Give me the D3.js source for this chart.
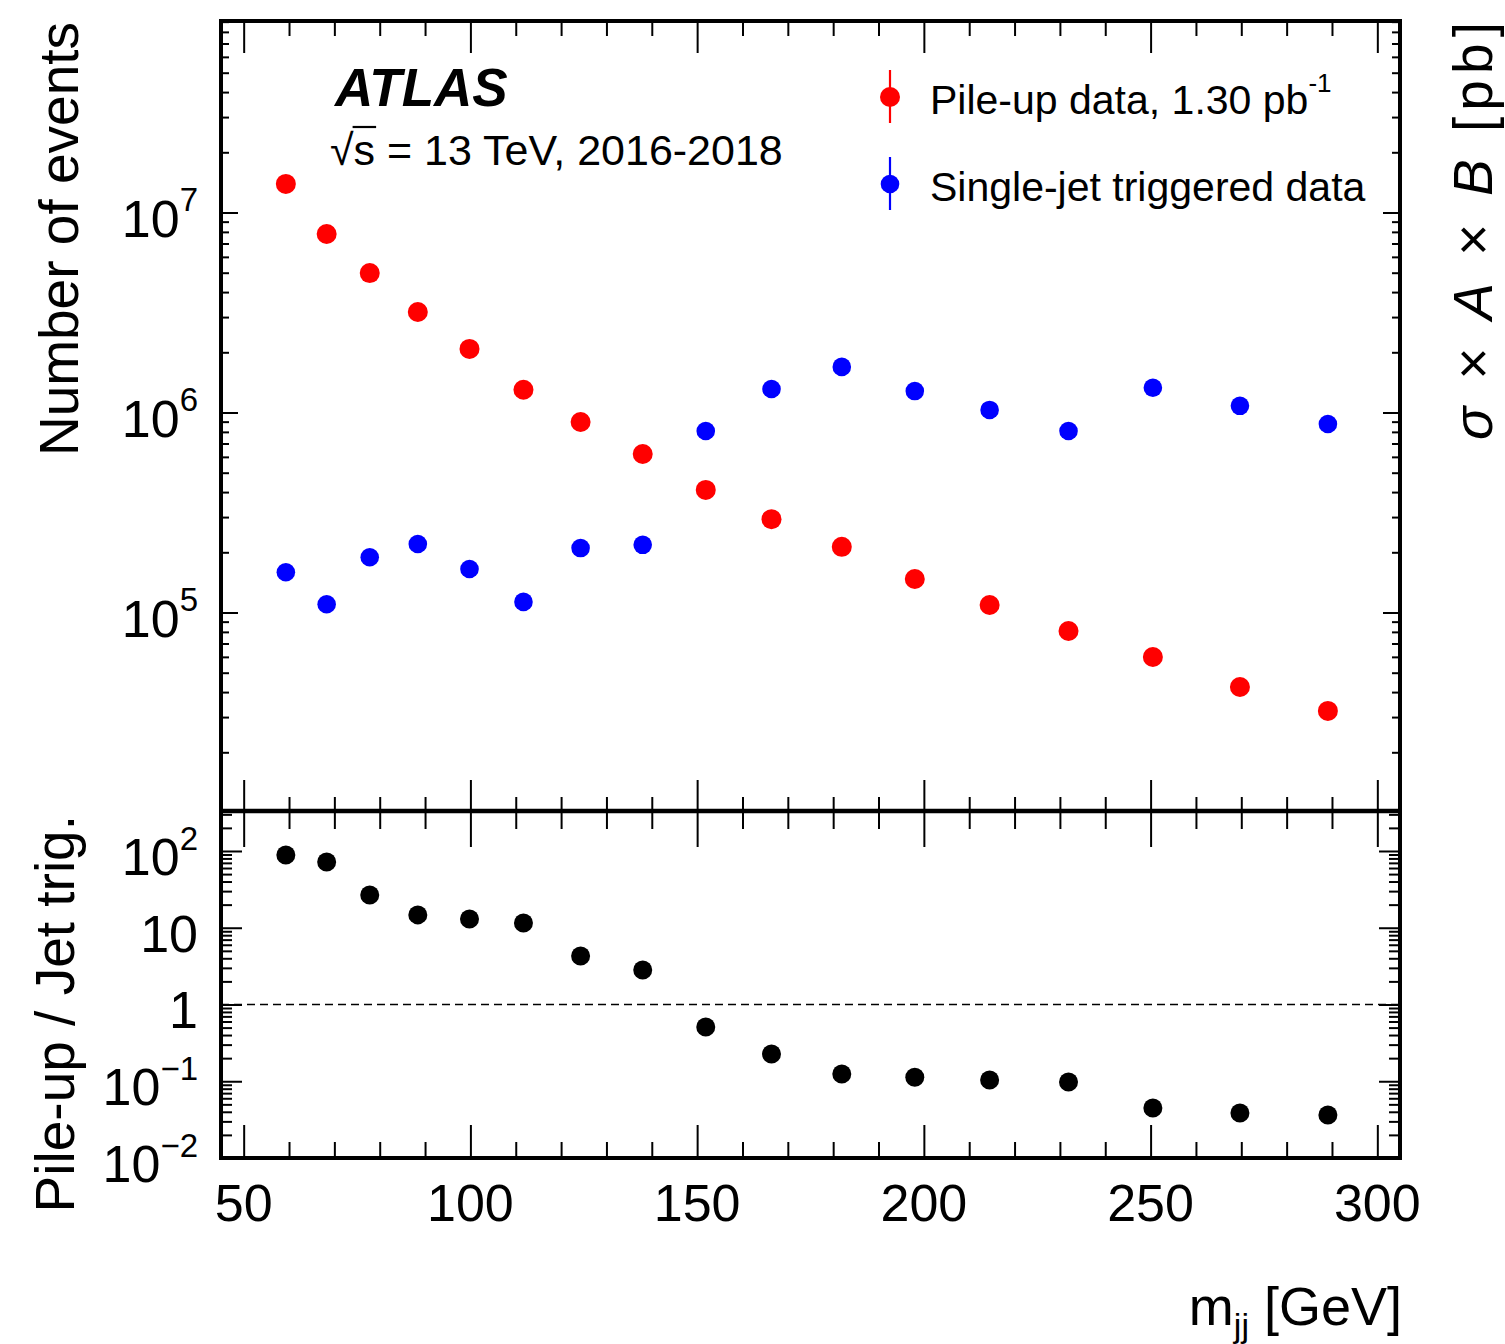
<!DOCTYPE html>
<html><head><meta charset="utf-8">
<script src="https://cdn.jsdelivr.net/npm/d3@7"></script>
<style>
body{margin:0;background:#fff}
text{font-family:"Liberation Sans",Arial,Helvetica,sans-serif;fill:#000}
</style>
</head><body>
<svg id="c" width="1505" height="1344"></svg>
<script>
// ---------------- data ----------------
const mjj = [59.3, 68.3, 77.8, 88.4, 99.8, 111.7, 124.3, 138.0, 151.9, 166.4, 181.9, 198.0, 214.5, 231.9, 250.5, 269.7, 289.1];
const pileupEvents = [1.39e7, 7.81e6, 4.98e6, 3.18e6, 2.08e6, 1.30e6, 8.96e5, 6.20e5, 4.10e5, 2.93e5, 2.13e5, 1.47e5, 1.09e5, 8.08e4, 5.99e4, 4.24e4, 3.22e4];
const jetTrigEvents = [1.59e5, 1.10e5, 1.89e5, 2.20e5, 1.65e5, 1.13e5, 2.10e5, 2.18e5, 8.08e5, 1.31e6, 1.69e6, 1.28e6, 1.03e6, 8.08e5, 1.33e6, 1.08e6, 8.76e5];
const ratioValues = [88.7, 71.9, 26.7, 14.7, 13.0, 11.5, 4.29, 2.82, 0.509, 0.226, 0.124, 0.113, 0.104, 0.0978, 0.0448, 0.0385, 0.0363];
const xTickLabels = [50, 100, 150, 200, 250, 300];
const topTickExponents = [5, 6, 7];
const ratioTickValues = [100, 10, 1, 0.1, 0.01];
const ratioTickBase = ["10", "10", "1", "10", "10"];
const ratioTickSup = ["2", "", "", "\u22121", "\u22122"];
const legendLabels = ["Pile-up data, 1.30 pb", "Single-jet triggered data"];

// ---------------- layout ----------------
const L = 221, R = 1400, T = 21, M = 811, B = 1158;
const svg = d3.select("#c");

const x = d3.scaleLinear([45, 305], [L, R]);
const yTop = d3.scaleLog([Math.pow(10, 4.0075), Math.pow(10, 7.9575)], [M, T]);
const yBot = d3.scaleLog([0.01, Math.pow(10, 2.521)], [B, M]);

const xMajor = d3.range(50, 301, 50);
const xMinor = d3.range(50, 301, 10).filter(v => v % 50 !== 0);
function logMinor(scale) {
  const [a, b] = scale.domain();
  const out = [];
  for (let e = Math.floor(Math.log10(a)); e <= Math.ceil(Math.log10(b)); e++) {
    for (let m = 2; m <= 9; m++) {
      const v = m * Math.pow(10, e);
      if (v > a && v < b) out.push(v);
    }
  }
  return out;
}
function logMajor(scale) {
  const [a, b] = scale.domain();
  const out = [];
  for (let e = Math.ceil(Math.log10(a)); e <= Math.floor(Math.log10(b)); e++) out.push(Math.pow(10, e));
  return out;
}

function tickAxis(axisFn, scale, values, size, transform) {
  const g = svg.append("g").attr("transform", transform)
    .call(axisFn(scale).tickValues(values).tickSize(size).tickFormat(""));
  g.select(".domain").remove();
  g.selectAll(".tick line").attr("stroke", "#000").attr("stroke-width", 2);
  return g;
}

// top panel ticks
tickAxis(d3.axisTop, x, xMajor, -32, `translate(0,${T})`);
tickAxis(d3.axisTop, x, xMinor, -15, `translate(0,${T})`);
tickAxis(d3.axisBottom, x, xMajor, -31, `translate(0,${M})`);
tickAxis(d3.axisBottom, x, xMinor, -14, `translate(0,${M})`);
tickAxis(d3.axisLeft, yTop, logMajor(yTop), -17, `translate(${L},0)`);
tickAxis(d3.axisLeft, yTop, logMinor(yTop), -8, `translate(${L},0)`);
tickAxis(d3.axisRight, yTop, logMajor(yTop), -17, `translate(${R},0)`);
tickAxis(d3.axisRight, yTop, logMinor(yTop), -8, `translate(${R},0)`);
// bottom panel ticks
tickAxis(d3.axisTop, x, xMajor, -36, `translate(0,${M})`);
tickAxis(d3.axisTop, x, xMinor, -18, `translate(0,${M})`);
tickAxis(d3.axisBottom, x, xMajor, -33, `translate(0,${B})`);
tickAxis(d3.axisBottom, x, xMinor, -16, `translate(0,${B})`);
tickAxis(d3.axisLeft, yBot, logMajor(yBot), -21, `translate(${L},0)`);
tickAxis(d3.axisLeft, yBot, logMinor(yBot), -11, `translate(${L},0)`);
tickAxis(d3.axisRight, yBot, logMajor(yBot), -21, `translate(${R},0)`);
tickAxis(d3.axisRight, yBot, logMinor(yBot), -11, `translate(${R},0)`);

// dashed unity line
svg.append("line").attr("x1", L).attr("x2", R).attr("y1", yBot(1)).attr("y2", yBot(1))
  .attr("stroke", "#000").attr("stroke-width", 1.6).attr("stroke-dasharray", "8,5");

// frames
svg.append("rect").attr("x", L).attr("y", T).attr("width", R - L).attr("height", B - T)
  .attr("fill", "none").attr("stroke", "#000").attr("stroke-width", 4);
svg.append("line").attr("x1", L).attr("x2", R).attr("y1", M).attr("y2", M)
  .attr("stroke", "#000").attr("stroke-width", 4.5);

// points
svg.append("g").selectAll("circle").data(mjj).join("circle")
  .attr("cx", d => x(d)).attr("cy", (d, i) => yTop(jetTrigEvents[i])).attr("r", 9.3).attr("fill", "#0000ff");
svg.append("g").selectAll("circle").data(mjj).join("circle")
  .attr("cx", d => x(d)).attr("cy", (d, i) => yTop(pileupEvents[i])).attr("r", 10).attr("fill", "#ff0000");
svg.append("g").selectAll("circle").data(mjj).join("circle")
  .attr("cx", d => x(d)).attr("cy", (d, i) => yBot(ratioValues[i])).attr("r", 9.5).attr("fill", "#000");

// x tick labels
svg.append("g").selectAll("text").data(xTickLabels).join("text")
  .attr("x", d => x(d)).attr("y", 1221).attr("text-anchor", "middle")
  .attr("font-size", 52).text(d => d);

// top y tick labels
topTickExponents.forEach(e => {
  const t = svg.append("text").attr("x", 198).attr("y", yTop(Math.pow(10, e)) + 24)
    .attr("text-anchor", "end").attr("font-size", 52);
  t.append("tspan").text("10");
  t.append("tspan").attr("font-size", 33).attr("dy", -26).text(e);
});
// ratio y tick labels
ratioTickValues.forEach((v, i) => {
  const t = svg.append("text").attr("x", 198).attr("y", yBot(v) + 24)
    .attr("text-anchor", "end").attr("font-size", 52);
  t.append("tspan").text(ratioTickBase[i]);
  if (ratioTickSup[i]) t.append("tspan").attr("font-size", 33).attr("dy", -25).text(ratioTickSup[i]);
});

// axis titles
svg.append("text").attr("transform", "translate(78,22) rotate(-90)")
  .attr("text-anchor", "end").attr("font-size", 55).text("Number of events");
svg.append("text").attr("transform", "translate(74,815) rotate(-90)")
  .attr("text-anchor", "end").attr("font-size", 55).text("Pile-up / Jet trig.");
const xt = svg.append("text").attr("x", 1402).attr("y", 1325).attr("text-anchor", "end").attr("font-size", 54);
xt.append("tspan").text("m");
xt.append("tspan").attr("font-size", 34).attr("dy", 12).text("jj");
xt.append("tspan").attr("dy", -12).text(" [GeV]");
const rt = svg.append("text").attr("transform", "translate(1492,22) rotate(-90)")
  .attr("text-anchor", "end").attr("font-size", 55)
  .attr("textLength", 418).attr("lengthAdjust", "spacing");
rt.append("tspan").attr("font-style", "italic").text("\u03C3");
rt.append("tspan").text(" \u00D7 ");
rt.append("tspan").attr("font-style", "italic").text("A");
rt.append("tspan").text(" \u00D7 ");
rt.append("tspan").attr("font-style", "italic").text("B");
rt.append("tspan").text(" [pb]");

// ATLAS label
svg.append("text").attr("x", 335).attr("y", 106).attr("font-size", 53)
  .attr("font-weight", "bold").attr("font-style", "italic").text("ATLAS");
const en = svg.append("text").attr("x", 330).attr("y", 165).attr("font-size", 43)
  .text("\u221As = 13 TeV, 2016-2018");
{
  const n = en.node();
  const s0 = n.getStartPositionOfChar(1), s1 = n.getEndPositionOfChar(1);
  svg.append("line").attr("x1", s0.x - 1).attr("x2", s1.x + 1).attr("y1", 127).attr("y2", 127)
    .attr("stroke", "#000").attr("stroke-width", 2.2);
}

// legend
const legColors = ["#ff0000", "#0000ff"];
const legY = [97, 184];
const legR = [10, 9.3];
legendLabels.forEach((lab, i) => {
  svg.append("line").attr("x1", 890).attr("x2", 890).attr("y1", legY[i] - 27).attr("y2", legY[i] + 26)
    .attr("stroke", legColors[i]).attr("stroke-width", 2.2);
  svg.append("circle").attr("cx", 890).attr("cy", legY[i]).attr("r", legR[i]).attr("fill", legColors[i]);
  const t = svg.append("text").attr("x", 930).attr("y", legY[i] + 17).attr("font-size", 41).text(lab);
  if (i === 0) t.append("tspan").attr("font-size", 26).attr("dy", -22).text("-1");
});
</script>
</body></html>
